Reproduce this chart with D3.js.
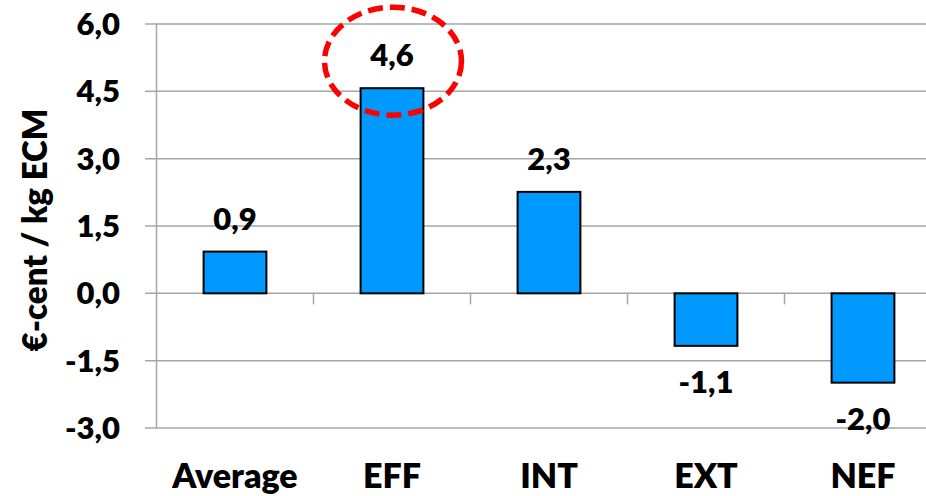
<!DOCTYPE html>
<html><head><meta charset="utf-8">
<script src="https://cdn.jsdelivr.net/npm/d3@7"></script>
<style>body{margin:0;background:#fff}svg{display:block}</style>
</head><body>
<script>
const categories = ["Average", "EFF", "INT", "EXT", "NEF"];
const values = [0.93, 4.57, 2.26, -1.17, -1.99];
const valueLabels = ["0,9", "4,6", "2,3", "-1,1", "-2,0"];
const yTicks = [-3.0, -1.5, 0.0, 1.5, 3.0, 4.5, 6.0];
const yTickLabels = ["-3,0", "-1,5", "0,0", "1,5", "3,0", "4,5", "6,0"];
const yTitle = "€-cent / kg ECM";
const highlighted = "EFF";

const W = 926, H = 496;
const FONT = "Lato, 'Open Sans', sans-serif";
const FW = 800;
const svg = d3.select("body").append("svg").attr("width", W).attr("height", H);

const x = d3.scaleBand().domain(categories).range([156.5, 941.5]).paddingInner(0.6).paddingOuter(0.3);
const y = d3.scaleLinear().domain([-3, 6]).range([428, 24]);
const step = x.step();

// gridlines
svg.append("g").selectAll("line").data(yTicks).join("line")
  .attr("x1", 145).attr("x2", W).attr("y1", d => y(d)).attr("y2", d => y(d))
  .attr("stroke", "#a6a6a6").attr("stroke-width", 1.5);

// y axis line
svg.append("line").attr("x1", 156.5).attr("x2", 156.5).attr("y1", y(6)).attr("y2", y(-3))
  .attr("stroke", "#a6a6a6").attr("stroke-width", 1.5);

// category tick marks at zero line
const dividers = categories.slice(1).map(c => x(c) - (step - x.bandwidth()) / 2);
svg.append("g").selectAll("line").data(dividers).join("line")
  .attr("x1", d => d).attr("x2", d => d).attr("y1", y(0)).attr("y2", y(0) + 11)
  .attr("stroke", "#a6a6a6").attr("stroke-width", 1.5);

// y tick labels
svg.append("g").selectAll("text").data(yTicks).join("text")
  .attr("x", 120).attr("y", d => y(d)).attr("dy", "0.35em")
  .attr("text-anchor", "end").attr("font-family", FONT).attr("font-weight", FW)
  .attr("font-size", 31).attr("fill", "#000")
  .text((d, i) => yTickLabels[i]);

// y title
svg.append("text").attr("transform", "translate(47,230) rotate(-90)")
  .attr("text-anchor", "middle").attr("font-family", FONT).attr("font-weight", FW)
  .attr("font-size", 33).attr("fill", "#000").text(yTitle);

// bars
svg.append("g").selectAll("rect").data(categories).join("rect")
  .attr("x", d => x(d)).attr("width", x.bandwidth())
  .attr("y", (d, i) => y(Math.max(0, values[i])))
  .attr("height", (d, i) => Math.abs(y(values[i]) - y(0)))
  .attr("fill", "#0099ff").attr("stroke", "#000").attr("stroke-width", 2);

// value labels
svg.append("g").selectAll("text").data(categories).join("text")
  .attr("x", d => x(d) + x.bandwidth() / 2)
  .attr("y", (d, i) => values[i] >= 0 ? y(values[i]) - 22 : y(values[i]) + 47)
  .attr("text-anchor", "middle").attr("font-family", FONT).attr("font-weight", FW)
  .attr("font-size", 31).attr("fill", "#000")
  .text((d, i) => valueLabels[i]);

// category labels
svg.append("g").selectAll("text").data(categories).join("text")
  .attr("x", d => x(d) + x.bandwidth() / 2).attr("y", 488)
  .attr("text-anchor", "middle").attr("font-family", FONT).attr("font-weight", FW)
  .attr("font-size", 34).attr("fill", "#000").text(d => d);

// highlight ellipse
const hi = categories.indexOf(highlighted);
svg.append("ellipse")
  .attr("cx", x(highlighted) + x.bandwidth() / 2 + 1)
  .attr("cy", y(values[hi]) - 27)
  .attr("rx", 68.5).attr("ry", 54)
  .attr("fill", "none").attr("stroke", "#ff0000").attr("stroke-width", 5.5)
  .attr("stroke-dasharray", "15 7");
</script>
</body></html>
